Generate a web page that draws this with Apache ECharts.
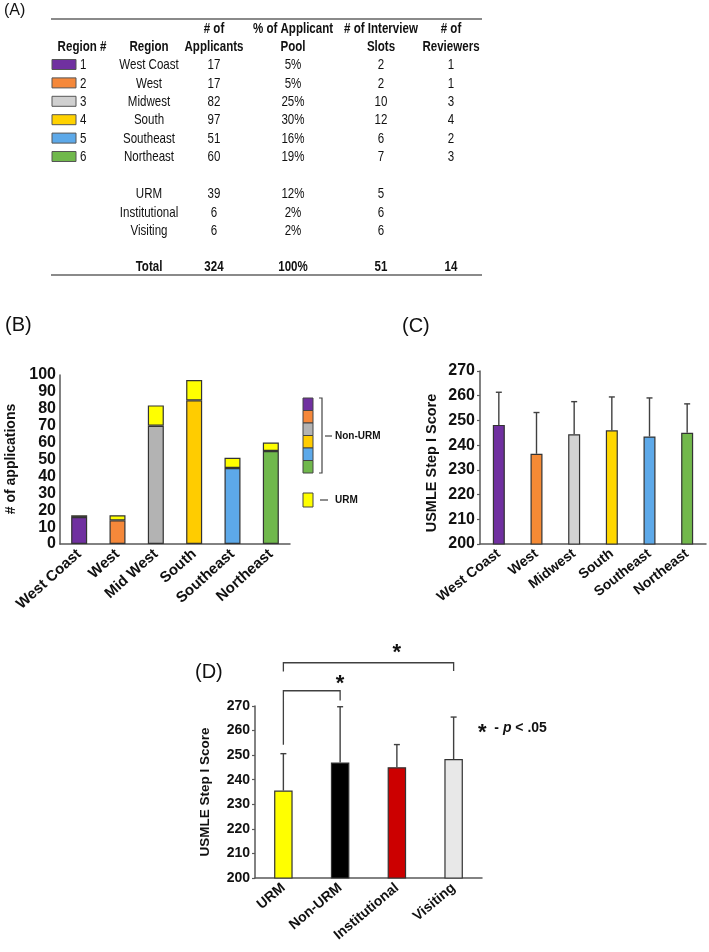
<!DOCTYPE html>
<html>
<head>
<meta charset="utf-8">
<script src="https://cdn.jsdelivr.net/npm/echarts@6/dist/echarts.min.js"></script>
<style>
  html, body { margin: 0; padding: 0; background: #fff; }
  #chart { width: 709px; height: 952px; }
</style>
</head>
<body>
<div id="chart"></div>
<script>
// ---- (A) table ----
const regionNums = [1, 2, 3, 4, 5, 6];
const regionNames = ['West Coast', 'West', 'Midwest', 'South', 'Southeast', 'Northeast'];
const applicants = [17, 17, 82, 97, 51, 60];
const pctPool = ['5%', '5%', '25%', '30%', '16%', '19%'];
const interviewSlots = [2, 2, 10, 12, 6, 7];
const reviewers = [1, 1, 3, 4, 2, 3];
const otherGroups = ['URM', 'Institutional', 'Visiting'];
const otherApplicants = [39, 6, 6];
const otherPct = ['12%', '2%', '2%'];
const otherSlots = [5, 6, 6];
const totalRow = ['Total', '324', '100%', '51', '14'];

// ---- (B) applications per region ----
const bCats = ['West Coast', 'West', 'Mid West', 'South', 'Southeast', 'Northeast'];
const bNonUrm = [16, 14, 70, 85, 45, 55];
const bUrm = [1, 3, 12, 12, 6, 5];

// ---- (C) step 1 score per region ----
const cCats = ['West Coast', 'West', 'Midwest', 'South', 'Southeast', 'Northeast'];
const cMean = [248.2, 236.5, 244.4, 246.0, 243.5, 245.0];
const cUpper = [261.4, 253.2, 257.6, 259.5, 259.1, 256.7];

// ---- (D) step 1 score per group ----
const dCats = ['URM', 'Non-URM', 'Institutional', 'Visiting'];
const dMean = [235.6, 247.0, 245.1, 248.4];
const dUpper = [250.6, 269.7, 254.3, 265.5];
// [from, to, top, left leg end, right leg end, star]
const dBrackets = [[0, 1, 276.2, 254.2, 272.2, 279.0], [0, 3, 287.6, 284.0, 284.2, 291.4]];

const yTicksScore = { min: 200, max: 270, interval: 10 };
const yTicksApps = { min: 0, max: 100, interval: 10 };

const regionColors = ['#7030a0', '#f5883a', '#d0d0d0', '#ffd200', '#5da9e9', '#70b84c'];
const bColors = ['#7030a0', '#f5883a', '#b3b3b3', '#ffcc00', '#5da9e9', '#70b84c'];
const cColors = ['#7030a0', '#f58a35', '#d3d3d3', '#ffd700', '#5da9e9', '#72b84c'];
const dColors = ['#ffff00', '#000000', '#cc0000', '#e8e8e8'];

const FONT = '"Liberation Sans", Arial, sans-serif';
const INK = '#111';

function txt(x, y, s, opt) {
  opt = opt || {};
  const size = opt.size || 14;
  const font = (opt.bold ? 'bold ' : '') + (opt.italic ? 'italic ' : '') + size + 'px ' + FONT;
  const align = opt.align || 'center';
  return {
    type: 'text', x: x, y: y, rotation: opt.rotation || 0, scaleX: opt.scaleX || 1,
    style: { text: String(s), font: font, fill: INK, align: align, textAlign: align,
             verticalAlign: 'middle', textVerticalAlign: 'middle' }
  };
}

// table layout
const colX = [82, 149, 214, 293, 381, 451];
const narrow = 0.77;
const TS = 15;
const g = [];
g.push({ type: 'line', shape: { x1: 51, y1: 19, x2: 482, y2: 19 }, style: { stroke: '#8a8a8a', lineWidth: 2 } });
g.push({ type: 'line', shape: { x1: 51, y1: 275, x2: 482, y2: 275 }, style: { stroke: '#8a8a8a', lineWidth: 2 } });
const head1 = ['', '', '# of', '% of Applicant', '# of Interview', '# of'];
const head2 = ['Region #', 'Region', 'Applicants', 'Pool', 'Slots', 'Reviewers'];
head1.forEach((h, i) => { if (h) g.push(txt(colX[i], 29, h, { bold: true, size: TS, scaleX: narrow })); });
head2.forEach((h, i) => g.push(txt(colX[i], 47, h, { bold: true, size: TS, scaleX: narrow })));
regionNames.forEach((name, i) => {
  const y = 65 + i * 18.4;
  g.push({ type: 'rect', shape: { x: 52, y: y - 5.5, width: 24, height: 10 },
           style: { fill: regionColors[i], stroke: '#555', lineWidth: 1 } });
  g.push(txt(80, y, regionNums[i], { align: 'left', size: TS, scaleX: narrow }));
  g.push(txt(colX[1], y, name, { size: TS, scaleX: narrow }));
  g.push(txt(colX[2], y, applicants[i], { size: TS, scaleX: narrow }));
  g.push(txt(colX[3], y, pctPool[i], { size: TS, scaleX: narrow }));
  g.push(txt(colX[4], y, interviewSlots[i], { size: TS, scaleX: narrow }));
  g.push(txt(colX[5], y, reviewers[i], { size: TS, scaleX: narrow }));
});
otherGroups.forEach((name, j) => {
  const y = 194 + j * 18.5;
  g.push(txt(colX[1], y, name, { size: TS, scaleX: narrow }));
  g.push(txt(colX[2], y, otherApplicants[j], { size: TS, scaleX: narrow }));
  g.push(txt(colX[3], y, otherPct[j], { size: TS, scaleX: narrow }));
  g.push(txt(colX[4], y, otherSlots[j], { size: TS, scaleX: narrow }));
});
totalRow.forEach((s, k) => g.push(txt(colX[k + 1], 267, s, { bold: true, size: TS, scaleX: narrow })));

// panel letters
g.push(txt(4, 11, '(A)', { size: 16, align: 'left' }));
g.push(txt(5, 325, '(B)', { size: 20, align: 'left' }));
g.push(txt(402, 326, '(C)', { size: 20, align: 'left' }));
g.push(txt(195, 672, '(D)', { size: 20, align: 'left' }));

// axis titles
g.push(txt(11, 459, '# of applications', { bold: true, size: 14, rotation: Math.PI / 2 }));
g.push(txt(432, 463, 'USMLE Step I Score', { bold: true, size: 14.5, rotation: Math.PI / 2 }));
g.push(txt(205, 792, 'USMLE Step I Score', { bold: true, size: 13.5, rotation: Math.PI / 2 }));

// legend of (B)
bColors.forEach((c, i) => {
  g.push({ type: 'rect', shape: { x: 303, y: 398 + i * 12.5, width: 10, height: 12.5 },
           style: { fill: c, stroke: '#444', lineWidth: 1 } });
});
g.push({ type: 'polyline', shape: { points: [[319, 398], [322, 398], [322, 473], [319, 473]] },
         style: { stroke: '#444', lineWidth: 1.2, fill: null } });
g.push({ type: 'line', shape: { x1: 325, y1: 436, x2: 332, y2: 436 }, style: { stroke: '#444', lineWidth: 1.2 } });
g.push(txt(335, 436, 'Non-URM', { bold: true, size: 10, align: 'left' }));
g.push({ type: 'rect', shape: { x: 303, y: 493, width: 10, height: 14 },
         style: { fill: '#ffff00', stroke: '#444', lineWidth: 1 } });
g.push({ type: 'line', shape: { x1: 320, y1: 500, x2: 328, y2: 500 }, style: { stroke: '#444', lineWidth: 1.2 } });
g.push(txt(335, 500, 'URM', { bold: true, size: 10, align: 'left' }));

// p-value note of (D)
g.push({
  type: 'text', x: 478, y: 728,
  style: {
    text: '{s|*}  - {i|p} < .05', fill: INK, verticalAlign: 'middle', textVerticalAlign: 'middle',
    font: 'bold 14px ' + FONT,
    rich: {
      s: { font: 'bold 22px ' + FONT, padding: [9, 0, 0, 0] },
      i: { font: 'italic bold 14px ' + FONT }
    }
  }
});

const axisLineStyle = { lineStyle: { color: '#595959', width: 1.5 } };
function catAxis(grid, data, rotate, size) {
  return {
    type: 'category', gridIndex: grid, data: data,
    axisLine: axisLineStyle, axisTick: { show: false },
    axisLabel: { interval: 0, rotate: rotate, fontWeight: 'bold', fontSize: size, fontFamily: FONT, color: INK, margin: 8 }
  };
}
function valAxis(grid, ticks, size, showTick) {
  return {
    type: 'value', gridIndex: grid, min: ticks.min, max: ticks.max, interval: ticks.interval,
    axisLine: Object.assign({ show: true }, axisLineStyle),
    axisTick: { show: showTick, length: 3, lineStyle: { color: '#595959', width: 1.2 } },
    splitLine: { show: false },
    axisLabel: { fontWeight: 'bold', fontSize: size, fontFamily: FONT, color: INK, margin: showTick ? 5 : 4 }
  };
}

function errorBars(ai, means, uppers) {
  return {
    type: 'custom', xAxisIndex: ai, yAxisIndex: ai, z: 5,
    data: means.map((m, i) => [i, m, uppers[i]]),
    encode: { x: 0, y: [1, 2] },
    renderItem: function (params, api) {
      const b = api.coord([api.value(0), api.value(1)]);
      const t = api.coord([api.value(0), api.value(2)]);
      const st = { stroke: '#404040', lineWidth: 1.4 };
      return { type: 'group', children: [
        { type: 'line', shape: { x1: b[0], y1: b[1], x2: t[0], y2: t[1] }, style: st },
        { type: 'line', shape: { x1: t[0] - 3, y1: t[1], x2: t[0] + 3, y2: t[1] }, style: st }
      ] };
    }
  };
}

const barBorder = { borderColor: '#333', borderWidth: 1.2 };

const option = {
  animation: false,
  backgroundColor: '#fff',
  textStyle: { fontFamily: FONT },
  graphic: { elements: g },
  grid: [
    { left: 60, top: 375, width: 230, height: 169 },
    { left: 480, top: 371, width: 226, height: 173 },
    { left: 255, top: 706, width: 227, height: 172 }
  ],
  xAxis: [catAxis(0, bCats, 42, 15), catAxis(1, cCats, 38, 14), catAxis(2, dCats, 40, 14)],
  yAxis: [valAxis(0, yTicksApps, 16, false), valAxis(1, yTicksScore, 16, true), valAxis(2, yTicksScore, 14, true)],
  series: [
    {
      type: 'bar', xAxisIndex: 0, yAxisIndex: 0, stack: 'apps', barWidth: 16,
      data: bNonUrm.map((v, i) => ({ value: v, itemStyle: { color: bColors[i] } })),
      itemStyle: barBorder
    },
    {
      type: 'bar', xAxisIndex: 0, yAxisIndex: 0, stack: 'apps', barWidth: 16,
      data: bUrm, itemStyle: Object.assign({ color: '#ffff00' }, barBorder)
    },
    {
      type: 'bar', xAxisIndex: 1, yAxisIndex: 1, barWidth: 12,
      data: cMean.map((v, i) => ({ value: v, itemStyle: { color: cColors[i] } })),
      itemStyle: barBorder
    },
    errorBars(1, cMean, cUpper),
    {
      type: 'bar', xAxisIndex: 2, yAxisIndex: 2, barWidth: 18.5,
      data: dMean.map((v, i) => ({ value: v, itemStyle: { color: dColors[i] } })),
      itemStyle: barBorder
    },
    errorBars(2, dMean, dUpper),
    {
      type: 'custom', xAxisIndex: 2, yAxisIndex: 2, clip: false, z: 6,
      data: dBrackets,
      encode: { x: [0, 1], y: [2, 3, 4, 5] },
      renderItem: function (params, api) {
        const l = api.coord([api.value(0), api.value(3)]);
        const lt = api.coord([api.value(0), api.value(2)]);
        const rt = api.coord([api.value(1), api.value(2)]);
        const r = api.coord([api.value(1), api.value(4)]);
        const s = api.coord([(api.value(0) + api.value(1)) / 2, api.value(5)]);
        return { type: 'group', children: [
          { type: 'polyline', shape: { points: [l, lt, rt, r] }, style: { stroke: '#404040', lineWidth: 1.3, fill: null } },
          { type: 'text', x: s[0], y: s[1], style: { text: '*', font: 'bold 22px ' + FONT, fill: INK,
            align: 'center', textAlign: 'center', verticalAlign: 'middle', textVerticalAlign: 'middle' } }
        ] };
      }
    }
  ]
};

const chart = echarts.init(document.getElementById('chart'));
chart.setOption(option);
</script>
</body>
</html>
